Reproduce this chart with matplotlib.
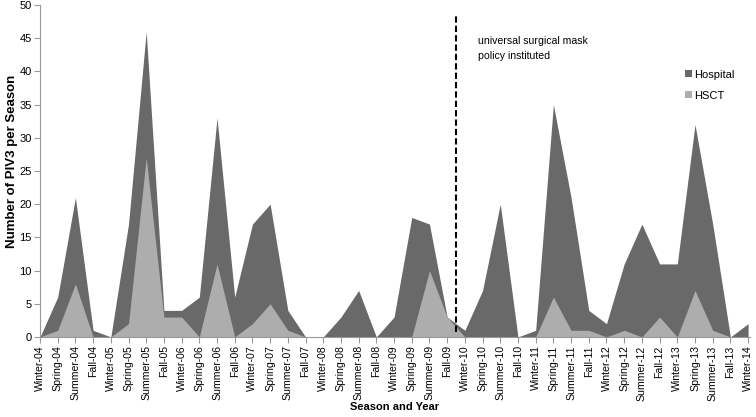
import matplotlib.pyplot as plt
import numpy as np

plt.rcParams['font.family'] = ['Liberation Sans', 'DejaVu Sans']

seasons = ['Winter', 'Spring', 'Summer', 'Fall']
labels = []
for yr in range(4, 15):
    for s in seasons:
        labels.append('%s-%02d' % (s, yr))
labels = labels[:41]  # Winter-04 .. Winter-14

hospital = [0, 6, 21, 1, 0, 17, 46, 4, 4, 6, 33, 6, 17, 20, 4, 0,
            0, 3, 7, 0, 3, 18, 17, 3, 1, 7, 20, 0, 1, 35, 21, 4,
            2, 11, 17, 11, 11, 32, 17, 0, 2]
hsct = [0, 1, 8, 0, 0, 2, 27, 3, 3, 0, 11, 0, 2, 5, 1, 0,
        0, 0, 0, 0, 0, 0, 10, 3, 0, 0, 0, 0, 0, 6, 1, 1,
        0, 1, 0, 3, 0, 7, 1, 0, 0]

x = np.arange(len(labels))

fig = plt.figure(figsize=(7.56, 4.17), dpi=100)
ax = fig.add_axes([0.0529, 0.192, 0.939, 0.796])

ax.fill_between(x, 0, hospital, color='#696969', lw=0, label='Hospital')
ax.fill_between(x, 0, hsct, color='#adadad', lw=0, label='HSCT')

# policy change marker
ax.plot([23.5, 23.5], [0.8, 48.6], color='black', lw=1.5, ls=(0, (3, 1.5)))
ax.text(24.75, 45.3, 'universal surgical mask\npolicy instituted', fontsize=7.6,
        va='top', ha='left', linespacing=1.55)

ax.set_xlim(0, 40.1)
ax.set_ylim(0, 50)
ax.set_yticks(np.arange(0, 51, 5))
ax.set_xticks(x)
ax.set_xticklabels(labels, rotation=90, fontsize=7.6)
ax.tick_params(axis='y', labelsize=8, length=4, pad=2, color='#999999')
ax.tick_params(axis='x', length=4, pad=2, color='#999999')

for s in ['top', 'right']:
    ax.spines[s].set_visible(False)
for s in ['left', 'bottom']:
    ax.spines[s].set_color('#999999')

ax.set_ylabel('Number of PIV3 per Season', fontsize=9.5, fontweight='bold')
ax.yaxis.set_label_coords(-0.031, 0.53)
ax.set_xlabel('Season and Year', fontsize=8, fontweight='bold', labelpad=1)

leg = ax.legend(loc='upper left', bbox_to_anchor=(0.895, 0.835), frameon=False,
                fontsize=8, handlelength=0.6, handleheight=0.6,
                handletextpad=0.2, labelspacing=1.0)

fig.savefig('out.png', dpi=100)
